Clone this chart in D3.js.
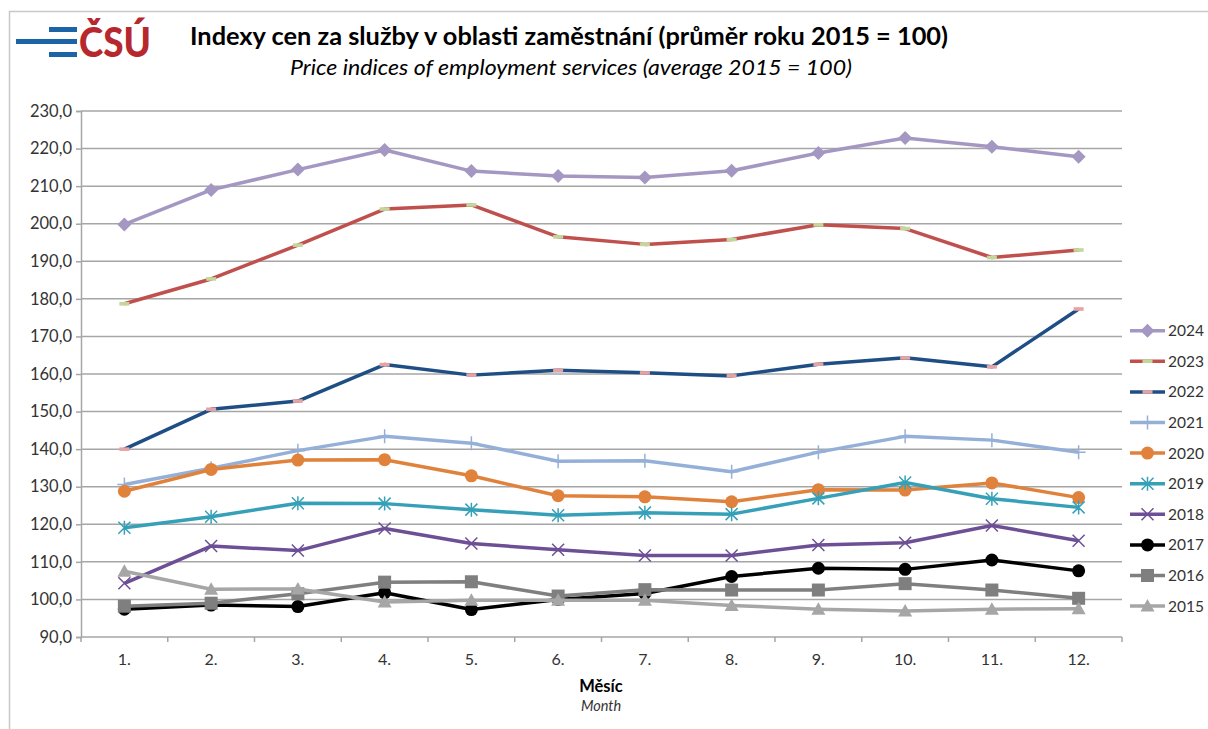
<!DOCTYPE html>
<html>
<head>
<meta charset="utf-8">
<script src="https://cdn.jsdelivr.net/npm/d3@7"></script>
<style>
  body { margin: 0; background: #fff; }
  svg { display: block; font-family: Lato, "Open Sans", sans-serif; }
</style>
</head>
<body>
<svg id="chart" width="1208" height="729"></svg>
<script>
// months on the x axis
const months = ["1.", "2.", "3.", "4.", "5.", "6.", "7.", "8.", "9.", "10.", "11.", "12."];
const yTicks = [90, 100, 110, 120, 130, 140, 150, 160, 170, 180, 190, 200, 210, 220, 230];

// series values
const v2024 = [199.8, 209.0, 214.4, 219.6, 214.0, 212.7, 212.3, 214.1, 218.8, 222.8, 220.5, 217.8];
const v2023 = [178.7, 185.3, 194.3, 203.9, 205.0, 196.5, 194.5, 195.8, 199.7, 198.7, 191.0, 193.0];
const v2022 = [140.0, 150.6, 152.8, 162.5, 159.7, 161.0, 160.3, 159.5, 162.6, 164.3, 161.9, 177.3];
const v2021 = [130.6, 134.9, 139.6, 143.4, 141.6, 136.8, 136.9, 134.0, 139.2, 143.4, 142.4, 139.2];
const v2020 = [128.8, 134.6, 137.1, 137.2, 132.9, 127.6, 127.3, 126.0, 129.2, 129.1, 131.0, 127.1];
const v2019 = [119.1, 122.0, 125.6, 125.5, 123.9, 122.4, 123.1, 122.7, 126.9, 131.1, 126.8, 124.5];
const v2018 = [104.3, 114.2, 113.0, 118.9, 114.9, 113.2, 111.7, 111.7, 114.5, 115.1, 119.7, 115.6];
const v2017 = [97.4, 98.5, 98.1, 101.8, 97.3, 100.0, 101.6, 106.1, 108.3, 108.0, 110.5, 107.6];
const v2016 = [98.2, 99.0, 101.5, 104.6, 104.7, 100.9, 102.6, 102.5, 102.5, 104.2, 102.5, 100.3];
const v2015 = [107.5, 102.7, 102.8, 99.3, 99.8, 99.8, 99.8, 98.4, 97.4, 96.9, 97.4, 97.5];

const series = [
  {name: "2024", values: v2024, color: "#a497c2", marker: "diamond"},
  {name: "2023", values: v2023, color: "#c0504d", marker: "dash", mcolor: "#c3d69b"},
  {name: "2022", values: v2022, color: "#1f4e85", marker: "dash", mcolor: "#e6a3a3"},
  {name: "2021", values: v2021, color: "#95b0d8", marker: "plus"},
  {name: "2020", values: v2020, color: "#e0823b", marker: "circle"},
  {name: "2019", values: v2019, color: "#35a0b8", marker: "star"},
  {name: "2018", values: v2018, color: "#6d4f96", marker: "x"},
  {name: "2017", values: v2017, color: "#000000", marker: "circle"},
  {name: "2016", values: v2016, color: "#7f7f7f", marker: "square"},
  {name: "2015", values: v2015, color: "#a6a6a6", marker: "triangle"}
];

const svg = d3.select("#chart");
const pLeft = 81, pRight = 1122, pTop = 111, pBottom = 637;

const x = d3.scaleBand().domain(months).range([pLeft, pRight]);
const cx = d => x(d) + x.bandwidth() / 2;
const y = d3.scaleLinear().domain([90, 230]).range([pBottom, pTop]);
const fmt = d3.formatLocale({decimal: ",", thousands: " ", grouping: [3], currency: ["", ""]}).format(".1f");

// outer frame
svg.append("path")
  .attr("d", "M9.5,729 V11.5 H1208")
  .attr("fill", "none").attr("stroke", "#c8c8c8").attr("stroke-width", 1.5);

// logo
const logo = svg.append("g");
logo.append("rect").attr("x", 49).attr("y", 27).attr("width", 28).attr("height", 5).attr("fill", "#1d64a6");
logo.append("rect").attr("x", 16).attr("y", 39).attr("width", 61).attr("height", 5).attr("fill", "#1d64a6");
logo.append("rect").attr("x", 49).attr("y", 52).attr("width", 28).attr("height", 5).attr("fill", "#1d64a6");
logo.append("text").attr("x", 79).attr("y", 57)
  .attr("font-size", 41).attr("font-weight", 900).attr("fill", "#b7282e")
  .attr("textLength", 72).attr("lengthAdjust", "spacingAndGlyphs")
  .text("ČSÚ");

// titles
svg.append("text").attr("x", 569).attr("y", 45).attr("text-anchor", "middle")
  .attr("font-size", 24).attr("font-weight", "bold").attr("fill", "#000")
  .attr("textLength", 758).attr("lengthAdjust", "spacingAndGlyphs")
  .text("Indexy cen za služby v oblasti zaměstnání (průměr roku 2015 = 100)");
svg.append("text").attr("x", 571).attr("y", 75).attr("text-anchor", "middle")
  .attr("font-size", 21).attr("font-style", "italic").attr("fill", "#000")
  .attr("textLength", 562).attr("lengthAdjust", "spacingAndGlyphs")
  .text("Price indices of employment services (average 2015 = 100)");

// gridlines
svg.append("g").selectAll("line").data(yTicks.slice(1)).join("line")
  .attr("x1", pLeft).attr("x2", pRight)
  .attr("y1", d => y(d)).attr("y2", d => y(d))
  .attr("stroke", "#a6a6a6").attr("stroke-width", 1.5);

// y axis
const yAxis = svg.append("g").attr("transform", `translate(${pLeft},0)`)
  .call(d3.axisLeft(y).tickValues(yTicks).tickFormat(fmt).tickSize(5).tickPadding(4));
yAxis.select(".domain").attr("stroke", "#a6a6a6").attr("stroke-width", 1.5);
yAxis.selectAll(".tick line").attr("stroke", "#a6a6a6").attr("stroke-width", 1.5);
yAxis.selectAll(".tick text").attr("font-size", 16.5).attr("fill", "#333").attr("font-family", "Lato, sans-serif");

// x axis with ticks between months
const xg = svg.append("g");
xg.append("line").attr("x1", pLeft).attr("x2", pRight).attr("y1", pBottom).attr("y2", pBottom)
  .attr("stroke", "#a6a6a6").attr("stroke-width", 1.5);
xg.selectAll(".tk").data(months).join("line").attr("class", "tk")
  .attr("x1", d => x(d)).attr("x2", d => x(d))
  .attr("y1", pBottom).attr("y2", pBottom + 5)
  .attr("stroke", "#a6a6a6").attr("stroke-width", 1.5);
xg.append("line").attr("x1", pRight).attr("x2", pRight).attr("y1", pBottom).attr("y2", pBottom + 5)
  .attr("stroke", "#a6a6a6").attr("stroke-width", 1.5);
xg.selectAll(".lbl").data(months).join("text").attr("class", "lbl")
  .attr("x", d => cx(d)).attr("y", 665).attr("text-anchor", "middle")
  .attr("font-size", 16).attr("fill", "#333").text(d => d);

svg.append("text").attr("x", 601).attr("y", 692).attr("text-anchor", "middle")
  .attr("font-size", 16.5).attr("font-weight", "bold").attr("fill", "#000").text("Měsíc");
svg.append("text").attr("x", 601).attr("y", 711).attr("text-anchor", "middle")
  .attr("font-size", 14.5).attr("font-style", "italic").attr("fill", "#333").text("Month");

// marker drawing
function drawMarker(g, s) {
  const c = s.color;
  switch (s.marker) {
    case "diamond":
      g.append("path").attr("d", "M0,-7L7,0L0,7L-7,0Z").attr("fill", c);
      break;
    case "circle":
      g.append("circle").attr("r", 6.5).attr("fill", c);
      break;
    case "square":
      g.append("rect").attr("x", -6.5).attr("y", -6.5).attr("width", 13).attr("height", 13).attr("fill", c);
      break;
    case "triangle":
      g.append("path").attr("d", "M0,-7L7,5.5L-7,5.5Z").attr("fill", c);
      break;
    case "dash":
      g.append("rect").attr("x", -5).attr("y", -1.8).attr("width", 10).attr("height", 3.6).attr("fill", s.mcolor);
      break;
    case "plus":
      g.append("path").attr("d", "M0,-7V7M-7,0H7").attr("stroke", c).attr("stroke-width", 1.5);
      break;
    case "x":
      g.append("path").attr("d", "M-6,-6L6,6M-6,6L6,-6").attr("stroke", c).attr("stroke-width", 1.5);
      break;
    case "star":
      g.append("path").attr("d", "M-6,-6L6,6M-6,6L6,-6M0,-7V7").attr("stroke", c).attr("stroke-width", 1.5);
      break;
  }
}

const line = d3.line().x((d, i) => cx(months[i])).y(d => y(d));

// draw 2024 first, 2015 last (on top)
series.forEach(s => {
  const g = svg.append("g");
  g.append("path").datum(s.values).attr("d", line)
    .attr("fill", "none").attr("stroke", s.color).attr("stroke-width", 3.5)
    .attr("stroke-linejoin", "round");
  s.values.forEach((v, i) => {
    const mg = g.append("g").attr("transform", `translate(${cx(months[i])},${y(v)})`);
    drawMarker(mg, s);
  });
});

// legend
const legend = svg.append("g");
series.forEach((s, i) => {
  const ly = 330.7 + i * 30.6;
  const lg = legend.append("g").attr("transform", `translate(0,${ly})`);
  lg.append("line").attr("x1", 1130).attr("x2", 1165).attr("y1", 0).attr("y2", 0)
    .attr("stroke", s.color).attr("stroke-width", 3.5);
  const mg = lg.append("g").attr("transform", "translate(1147.5,0)");
  drawMarker(mg, s);
  lg.append("text").attr("x", 1168).attr("y", 5.5).attr("font-size", 15.5)
    .attr("fill", "#333").text(s.name);
});
</script>
</body>
</html>
